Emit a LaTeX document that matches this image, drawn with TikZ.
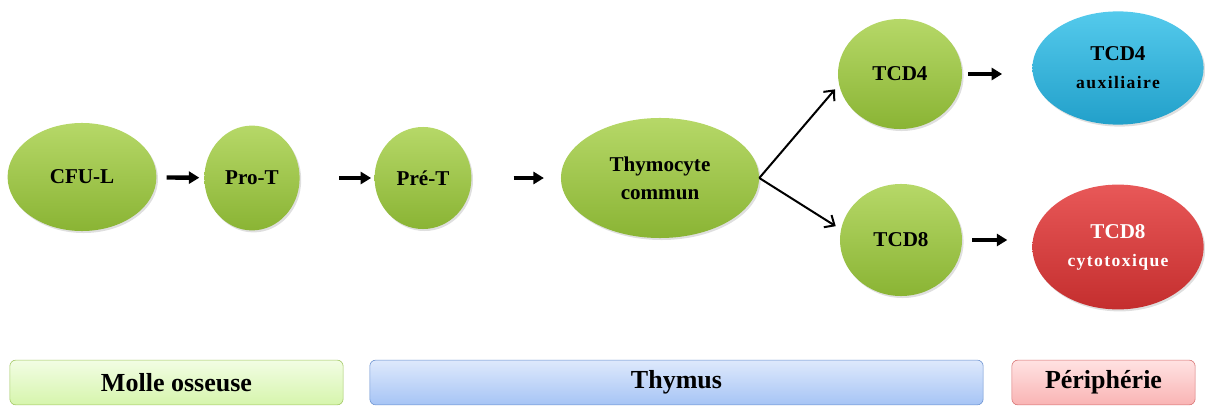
\documentclass[tikz,border=0pt]{standalone}
\usepackage{fontspec}
\setmainfont{Liberation Serif}
\usepackage{xcolor}
\usetikzlibrary{positioning,shapes,shadows,arrows.meta}

\definecolor{greentop}{RGB}{182,216,104}
\definecolor{greenbot}{RGB}{138,180,52}
\definecolor{bluetop}{RGB}{84,202,236}
\definecolor{bluebot}{RGB}{34,160,202}
\definecolor{redtop}{RGB}{232,88,88}
\definecolor{redbot}{RGB}{196,46,46}
\definecolor{zgreentop}{RGB}{242,253,228}
\definecolor{zgreenbot}{RGB}{214,245,172}
\definecolor{zgreenline}{RGB}{160,198,96}
\definecolor{zbluetop}{RGB}{222,233,252}
\definecolor{zbluebot}{RGB}{166,196,245}
\definecolor{zblueline}{RGB}{102,142,206}
\definecolor{zredtop}{RGB}{255,226,226}
\definecolor{zredbot}{RGB}{249,180,180}
\definecolor{zredline}{RGB}{214,112,112}

\begin{document}
\begin{tikzpicture}[x=0.025cm,y=-0.025cm,
        cell/.style={ellipse,inner sep=0pt,draw=none,text=black,align=center,
          top color=greentop,bottom color=greenbot,
          font=\bfseries\fontsize{15}{20}\selectfont,
          drop shadow={opacity=0.25,shadow xshift=0.04cm,shadow yshift=-0.05cm}},
        bluecell/.style={cell,top color=bluetop,bottom color=bluebot},
        redcell/.style={cell,top color=redtop,bottom color=redbot,text=white},
        zone/.style={rectangle,rounded corners=0.15cm,minimum height=1.12cm,
          font=\bfseries\fontsize{18.5}{20}\selectfont},
        short/.style={-{Triangle[length=0.26cm,width=0.3cm]},line width=0.11cm},
        split/.style={-{Straight Barb[length=0.2cm,width=0.36cm]},line width=0.05cm}]
      \useasboundingbox (0,0) rectangle (1205,407);
      %% cells
      \node[cell,minimum width=3.72cm,minimum height=2.7cm] (cfu) at (82,177) {CFU-L};
      \node[cell,minimum width=2.38cm,minimum height=2.62cm] (pro_t) at (252,178) {Pro-T};
      \node[cell,minimum width=2.42cm,minimum height=2.55cm] (pre_t) at (423,178) {Pré-T};
      \node[cell,minimum width=4.95cm,minimum height=3cm] (thy) at (660,178) {Thymocyte\\commun};
      \node[cell,minimum width=3.1cm,minimum height=2.75cm] (tcd_4) at (900,74) {TCD4};
      \node[cell,minimum width=3.05cm,minimum height=2.8cm] (tcd_8) at (901,240) {TCD8};
      \node[bluecell,minimum width=4.28cm,minimum height=2.83cm] (aux_4) at (1118,68)
        {TCD4\\{\fontsize{12.5}{20}\selectfont\addfontfeature{LetterSpace=8}auxiliaire}};
      \node[redcell,minimum width=4.28cm,minimum height=3.12cm] (cyt_8) at (1118,247)
        {TCD8\\{\fontsize{12.5}{20}\selectfont\addfontfeature{LetterSpace=8}cytotoxique}};
      %% zones
      \node[zone,draw=zgreenline,top color=zgreentop,bottom color=zgreenbot,
        minimum width=8.33cm] (b_mo) at (176.5,382.5) {Molle osseuse};
      \node[zone,draw=zblueline,top color=zbluetop,bottom color=zbluebot,
        minimum width=15.33cm] (b_thy) at (676.5,382.5) {Thymus};
      \node[zone,draw=zredline,top color=zredtop,bottom color=zredbot,
        minimum width=4.58cm] (b_per) at (1103.5,382.5) {Périphérie};
      %% arrows
      \path[short] (cfu) edge[shorten <=0.25cm,shorten >=0.12cm] (pro_t)
      (pro_t) edge[shorten <=0.98cm,shorten >=0.08cm] (pre_t)
      (pre_t) edge[shorten <=1.05cm,shorten >=0.42cm] (thy)
      (tcd_4.east) edge[shorten <=0.15cm,shorten >=0.75cm] (aux_4.west |- tcd_4.east)
      (tcd_8.east) edge[shorten <=0.25cm,shorten >=0.62cm] (cyt_8.west |- tcd_8.east);
      \draw[split,shorten >=0.15cm] (thy.east) -- (tcd_4.190);
      \draw[split,shorten >=0.15cm] (thy.east) -- (tcd_8.170);
    \end{tikzpicture}
\end{document}
